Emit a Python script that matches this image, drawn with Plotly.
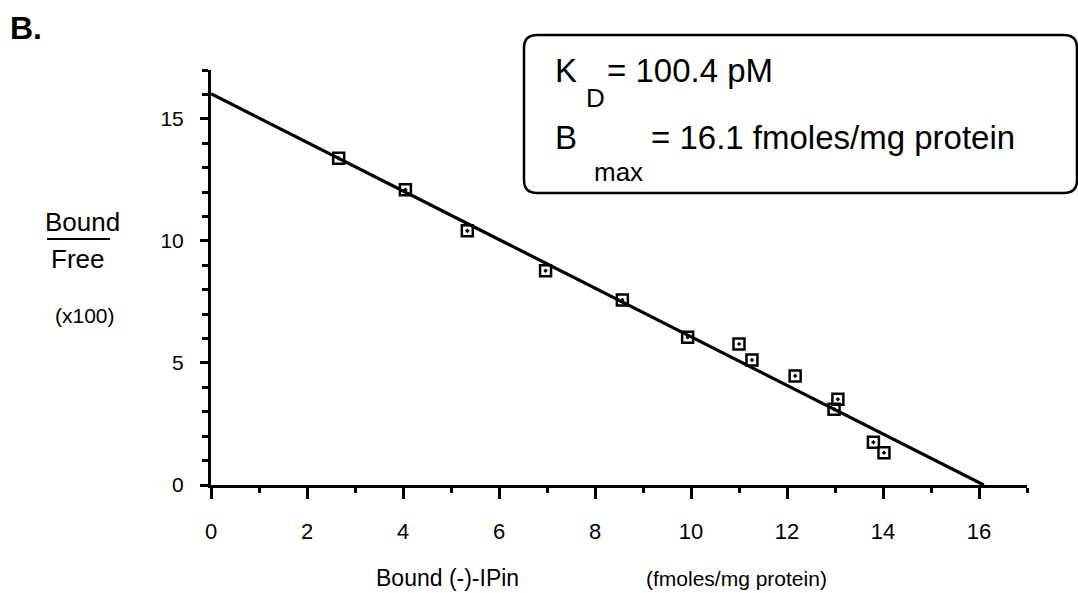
import plotly.graph_objects as go

# ---- data ----
bound = [2.66, 4.05, 5.34, 6.97, 8.57, 9.93, 11.0, 11.27, 12.17, 13.06, 12.98, 13.80, 14.02]
bound_free = [13.39, 12.09, 10.41, 8.78, 7.58, 6.05, 5.78, 5.12, 4.47, 3.51, 3.10, 1.75, 1.32]
fit_x = [0.0, 16.1]
fit_y = [16.03, 0.0]
x_ticks = [0, 2, 4, 6, 8, 10, 12, 14, 16]
y_ticks = [0, 5, 10, 15]

W, H = 1078, 593
L, R, T, B = 211, 51, 70, 108
PW, PH = W - L - R, H - T - B


def px(x):
    return (x - L) / PW


def py(y):
    return (H - B - y) / PH


FONT = "Liberation Sans, Arial, Helvetica, sans-serif"

fig = go.Figure()
fig.add_trace(go.Scatter(x=fit_x, y=fit_y, mode="lines",
                         line=dict(color="black", width=3.2), cliponaxis=False,
                         showlegend=False, hoverinfo="skip"))
fig.add_trace(go.Scatter(x=bound, y=bound_free, mode="markers",
                         marker=dict(symbol="square-open-dot", size=11, color="black",
                                     line=dict(color="black", width=2.5)),
                         showlegend=False))

fig.update_layout(
    width=W, height=H, autosize=False,
    margin=dict(l=L, r=R, t=T, b=B, pad=0),
    paper_bgcolor="white", plot_bgcolor="white",
    font=dict(family=FONT, color="black", size=22),
    xaxis=dict(range=[0, 17], tickmode="array", tickvals=x_ticks,
               ticktext=[str(v) for v in x_ticks],
               ticks="outside", ticklen=11, tickwidth=2.5, tickcolor="black",
               showline=True, linewidth=3, linecolor="black",
               showgrid=False, zeroline=False, ticklabelstandoff=14,
               tickfont=dict(size=22),
               minor=dict(dtick=1, tick0=0, ticks="outside", ticklen=5, tickwidth=2.5,
                          tickcolor="black", showgrid=False)),
    yaxis=dict(range=[0, 17], tickmode="array", tickvals=y_ticks,
               ticktext=[str(v) for v in y_ticks],
               ticks="outside", ticklen=8, tickwidth=2.5, tickcolor="black",
               showline=True, linewidth=3, linecolor="black",
               showgrid=False, zeroline=False, ticklabelstandoff=12,
               tickfont=dict(size=21),
               minor=dict(dtick=1, tick0=0, ticks="outside", ticklen=6, tickwidth=2.5,
                          tickcolor="black", showgrid=False)),
)

# rounded box
x0, x1, y0, y1 = 524, 1077, 35, 193
r = 13


def P(x, y):
    return f"{px(x):.5f},{py(y):.5f}"


path = (f"M {P(x0 + r, y0)} L {P(x1 - r, y0)} Q {P(x1, y0)} {P(x1, y0 + r)} "
        f"L {P(x1, y1 - r)} Q {P(x1, y1)} {P(x1 - r, y1)} "
        f"L {P(x0 + r, y1)} Q {P(x0, y1)} {P(x0, y1 - r)} "
        f"L {P(x0, y0 + r)} Q {P(x0, y0)} {P(x0 + r, y0)} Z")
fig.add_shape(type="path", path=path, xref="paper", yref="paper",
              line=dict(color="black", width=2.5), fillcolor="rgba(0,0,0,0)")

# fraction line of the y title
fig.add_shape(type="line", xref="paper", yref="paper",
              x0=px(47), x1=px(110), y0=py(239), y1=py(239),
              line=dict(color="black", width=2))


def text(s, x, y, size, anchor="left", bold=False):
    fig.add_annotation(text=f"<b>{s}</b>" if bold else s, xref="paper", yref="paper",
                       x=px(x), y=py(y), xanchor=anchor, yanchor="middle",
                       showarrow=False, font=dict(family=FONT, size=size, color="black"))


text("B.", 8, 28, 32, bold=True)
text("K", 553, 70, 33)
text("D", 584, 98, 26)
text("= 100.4 pM", 605, 70, 33)
text("B", 553, 137, 33)
text("max", 592, 172, 26)
text("= 16.1 fmoles/mg protein", 649, 137, 33)
text("Bound", 82.5, 222, 26, anchor="center")
text("Free", 77.5, 259, 26, anchor="center")
text("(x100)", 84.5, 315, 21, anchor="center")
text("Bound (-)-IPin", 447, 578, 23, anchor="center")
text("(fmoles/mg protein)", 736, 578, 21, anchor="center")

fig.write_html("out.html")
